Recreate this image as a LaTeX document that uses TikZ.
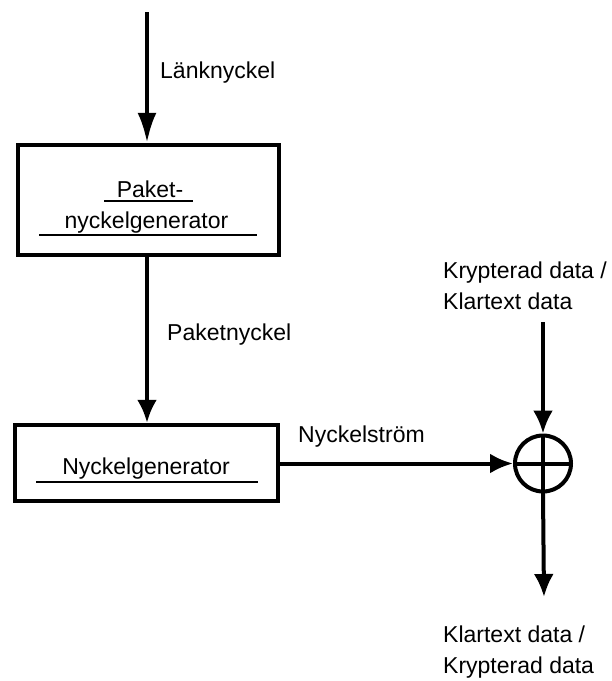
\documentclass[tikz,border=0pt]{standalone}
\usepackage{fontspec}
\setmainfont{Liberation Sans}
\usetikzlibrary{arrows.meta}

\begin{document}
\begin{tikzpicture}[x=1pt, y=-1pt,
    every node/.style={font=\fontsize{23}{31}\selectfont},
    genbox/.style={draw, line width=4.5pt, inner sep=0pt},
    flow/.style={line width=4pt, -{Latex[length=23pt, width=20pt]}},
    uline/.style={line width=2pt},
    lbl/.style={anchor=base west, inner sep=0pt, align=left}]

    \useasboundingbox (0,0) rectangle (612,681);

    % Generators
    \node[genbox, minimum width=261pt, minimum height=110pt] (pktgen) at (148.5,200) {};
    \node[genbox, minimum width=263pt, minimum height=76pt] (keygen) at (146.5,463) {};
    \node[anchor=base, inner sep=0pt] (pkttxt) at (150,197) {Paket-};
    \node[anchor=base, inner sep=0pt] (gentxt) at (146.5,228) {nyckelgenerator};
    \node[anchor=base, inner sep=0pt] (keytxt) at (146,474) {Nyckelgenerator};
    \draw[uline] (104,201) -- (193,201);
    \draw[uline] (39,235) -- (257,235);
    \draw[uline] (36,482) -- (258,482);

    % XOR
    \node[draw, circle, line width=4pt, minimum size=56pt, inner sep=0pt] (xor) at (543,463.5) {};
    \draw[line width=4pt] (xor.west) -- (xor.east);
    \draw[line width=4pt] (xor.north) -- (xor.south);

    % Arrows
    \coordinate (keyin) at (147,12);
    \coordinate (datain) at (543,322);
    \coordinate (dataout) at (544,597);
    \draw[flow, -{Latex[length=30pt, width=19pt]}] (keyin) -- (keyin |- pktgen.north);
    \draw[flow] (147,0 |- pktgen.south) -- (147,0 |- keygen.north);
    \draw[flow] (keygen.east |- xor.west) -- (xor.west);
    \draw[flow] (datain) -- (xor.north);
    \draw[flow] (xor.south) -- (dataout);

    % Labels
    \node[lbl] (lnk) at (160,78) {Länknyckel};
    \node[lbl] (pkt) at (167,340) {Paketnyckel};
    \node[lbl] (ks) at (298,442) {Nyckelström};
    \node[lbl] (in) at (443,309) {Krypterad data /\\Klartext data};
    \node[lbl] (out) at (443,673) {Klartext data /\\Krypterad data};

\end{tikzpicture}
\end{document}
